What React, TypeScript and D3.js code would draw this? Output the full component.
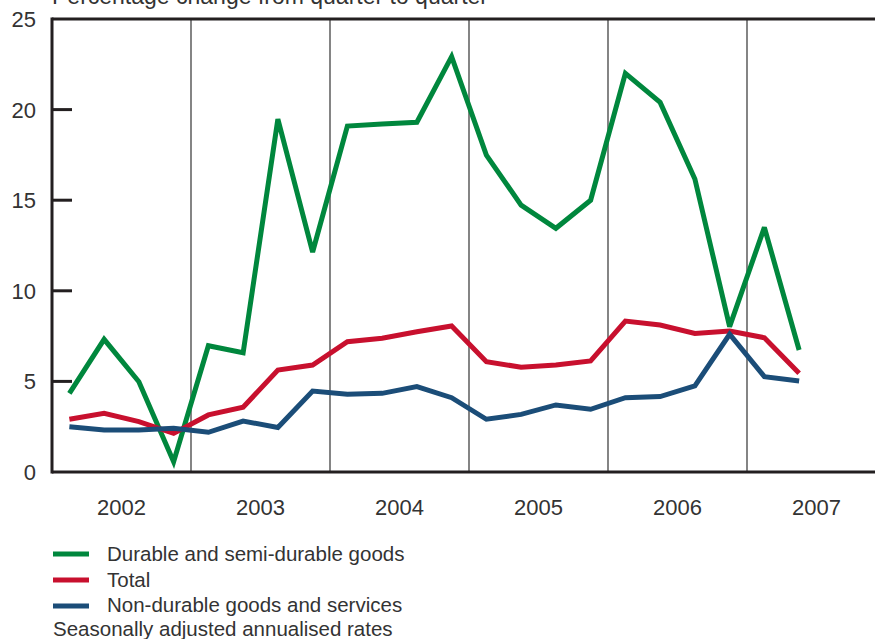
import React from "react";
import * as d3 from "d3";

const quarters = [
  "2002Q1","2002Q2","2002Q3","2002Q4",
  "2003Q1","2003Q2","2003Q3","2003Q4",
  "2004Q1","2004Q2","2004Q3","2004Q4",
  "2005Q1","2005Q2","2005Q3","2005Q4",
  "2006Q1","2006Q2","2006Q3","2006Q4",
  "2007Q1","2007Q2",
];
const durable = [4.34,7.32,4.98,0.57,6.97,6.58,19.48,12.14,19.09,19.2,19.3,22.92,17.49,14.73,13.45,15.0,22.0,20.4,16.17,8.02,13.5,6.73];
const total = [2.91,3.24,2.78,2.13,3.15,3.57,5.63,5.9,7.19,7.38,7.74,8.06,6.09,5.78,5.9,6.13,8.33,8.11,7.65,7.78,7.41,5.45];
const nonDurable = [2.5,2.32,2.32,2.41,2.19,2.81,2.46,4.47,4.29,4.34,4.71,4.1,2.91,3.18,3.7,3.46,4.1,4.16,4.75,7.6,5.26,5.02];
const years = [2002, 2003, 2004, 2005, 2006, 2007];
const yTicks = [0, 5, 10, 15, 20, 25];

const series = [
  { name: "Durable and semi-durable goods", values: durable, color: "#00873D" },
  { name: "Total", values: total, color: "#C8102E" },
  { name: "Non-durable goods and services", values: nonDurable, color: "#1B4D78" },
];

const W = 875, H = 639;
const left = 52, right = 886, top = 19, bottom = 472;
const font = "'Liberation Sans', Arial, sans-serif";
const textColor = "#333";

export default function App() {
  const x = d3.scaleLinear().domain([2002, 2008]).range([left, right]);
  const y = d3.scaleLinear().domain([0, 25]).range([bottom, top]);
  const qx = (i: number) => x(2002 + (i + 0.5) / 4);
  const line = d3.line<number>().x((_, i) => qx(i)).y((v) => y(v)).curve(d3.curveLinear);

  return (
    <svg width={W} height={H} style={{ position: "absolute", left: 0, top: 0, background: "#fff" }}>
      <text x={left} y={4} fontFamily={font} fontSize={23} fill={textColor}>
        Percentage change from quarter to quarter
      </text>
      {years.slice(1).map((yr) => (
        <line key={yr} x1={x(yr)} x2={x(yr)} y1={top} y2={bottom} stroke="#333" strokeWidth={1.2} />
      ))}
      {yTicks.map((t) => (
        <g key={t}>
          {t > 0 && t < 25 && (
            <line x1={left} x2={left + 20} y1={y(t)} y2={y(t)} stroke="#231f20" strokeWidth={3} />
          )}
          <text x={36} y={y(t) + 8} textAnchor="end" fontFamily={font} fontSize={22} fill={textColor}>
            {t}
          </text>
        </g>
      ))}
      {years.map((yr) => (
        <text key={yr} x={x(yr + 0.5)} y={515} textAnchor="middle" fontFamily={font} fontSize={22} fill={textColor}>
          {yr}
        </text>
      ))}
      {series.map((s) => (
        <path key={s.name} d={line(s.values) || ""} fill="none" stroke={s.color} strokeWidth={5} strokeLinejoin="miter" strokeMiterlimit={3} />
      ))}
      <line x1={left} x2={W} y1={top} y2={top} stroke="#231f20" strokeWidth={3} />
      <line x1={left} x2={W} y1={bottom} y2={bottom} stroke="#231f20" strokeWidth={3} />
      <line x1={left} x2={left} y1={top - 1.5} y2={bottom + 1.5} stroke="#231f20" strokeWidth={3} />
      {series.map((s, i) => (
        <g key={s.name}>
          <line x1={53} x2={89} y1={554 + i * 26} y2={554 + i * 26} stroke={s.color} strokeWidth={5} />
          <text x={107} y={561 + i * 25.5} fontFamily={font} fontSize={20.5} fill={textColor}>
            {s.name}
          </text>
        </g>
      ))}
      <text x={53} y={636} fontFamily={font} fontSize={20.5} fill={textColor}>
        Seasonally adjusted annualised rates
      </text>
    </svg>
  );
}
